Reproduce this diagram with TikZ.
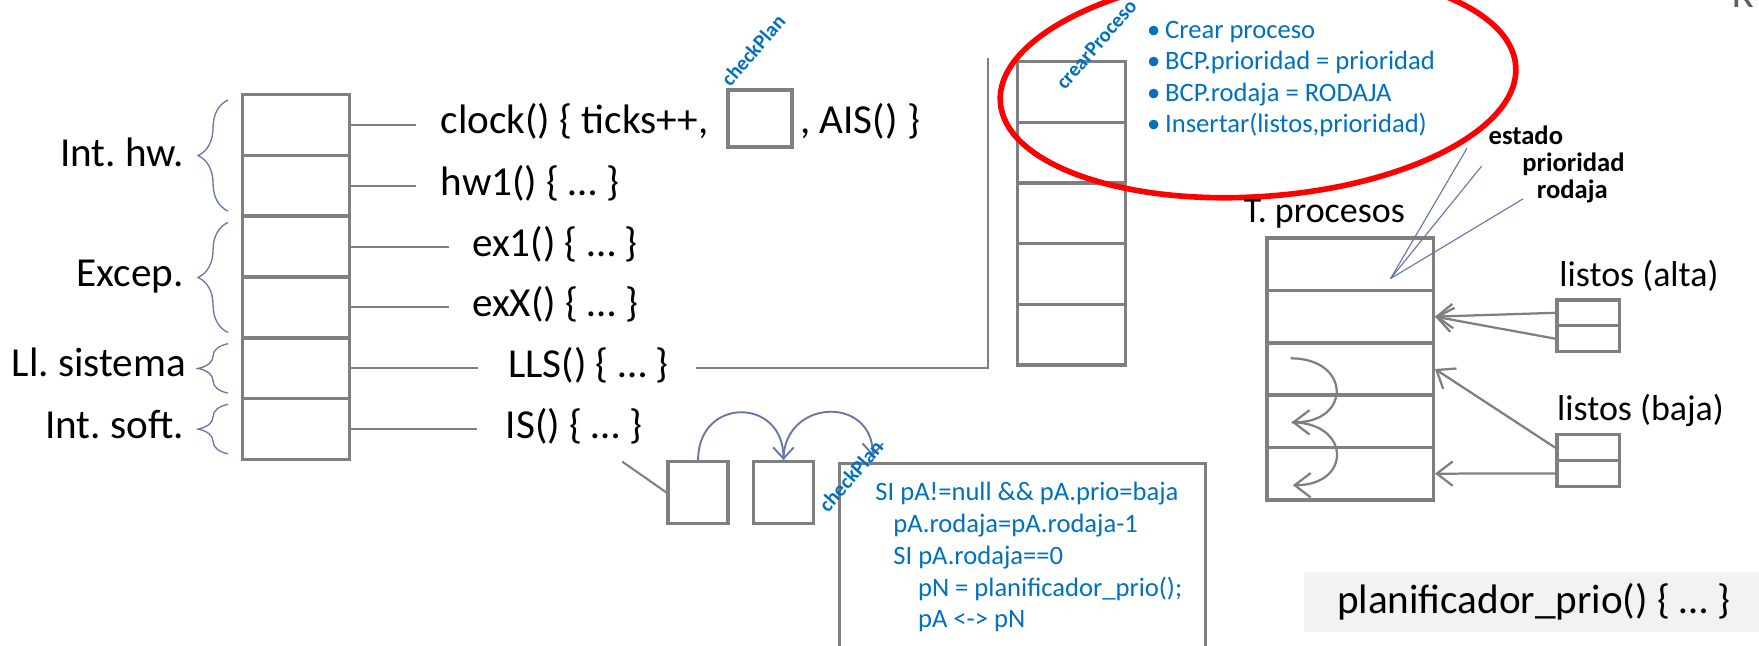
\documentclass[tikz,border=0pt]{standalone}
\usepackage{fontspec}
\setmainfont{Carlito}
\usepackage{tikz}
\usetikzlibrary{arrows.meta}
\usetikzlibrary{calc}
\usetikzlibrary{decorations.pathreplacing}
\definecolor{tabgray}{RGB}{127,127,127}
\definecolor{codeblue}{RGB}{0,112,192}
\definecolor{slate}{RGB}{104,117,168}
\definecolor{plangray}{RGB}{242,242,242}
\definecolor{kgray}{RGB}{95,95,95}
\newcommand{\bigfont}{\fontsize{22}{26}\selectfont}
\newcommand{\midfont}{\fontsize{19.2}{23}\selectfont}
\newcommand{\smallfont}{\fontsize{14.2}{17}\selectfont}
\newcommand{\tagfont}{\fontsize{11}{13}\selectfont\bfseries}
\frenchspacing

\begin{document}
\begin{tikzpicture}[
    x=0.6pt, y=-0.6pt,
    vec cell/.style={draw=tabgray, line width=1.8pt, minimum width=57pt, minimum height=32.5pt, inner sep=0pt},
    proc cell/.style={vec cell, minimum width=57.6pt, minimum height=32.4pt},
    tab cell/.style={vec cell, minimum width=88.8pt, minimum height=28pt},
    list cell/.style={vec cell, minimum width=33.6pt, minimum height=13.8pt},
    code line/.style={draw=tabgray, line width=1.1pt},
    gray arrow/.style={draw=tabgray, line width=1.2pt, -{Straight Barb[length=8.5pt,width=13pt]}},
    blue arrow/.style={draw=slate, line width=1pt, -{Straight Barb[length=6pt,width=11pt]}},
    blue thin/.style={draw=slate, line width=0.6pt},
    brace line/.style={draw=slate, line width=0.7pt, decorate, decoration={brace, amplitude=16pt}},
    big text/.style={inner sep=0pt, font=\bigfont},
    mid text/.style={inner sep=0pt, font=\midfont},
    blue text/.style={inner sep=0pt, font=\smallfont, text=codeblue},
    tag text/.style={inner sep=0pt, font=\tagfont, text=codeblue, rotate=49, anchor=base west},
    field text/.style={inner sep=0pt, font=\smallfont\bfseries}
    ]

    \useasboundingbox (0,0) rectangle (1566,575);
    \clip (0,0) rectangle (1566,575);

    % vector table
    \foreach \i in {1,...,6}
        \node[vec cell] (v\i) at (263.5, {56.9+54.2*\i}) {};
    % braces and groups
    \draw[brace line] (203,188) -- (203,89);
    \draw[brace line] (203,296) -- (203,198);
    \draw[brace line] (203,350) -- (203,306);
    \draw[brace line] (203,404) -- (203,360);
    \node[big text, anchor=base east] (hw) at (164,148.6) {Int. hw.};
    \node[big text, anchor=base east] (exc) at (164,255.4) {Excep.};
    \node[big text, anchor=base east] (sis) at (166,335.5) {Ll. sistema};
    \node[big text, anchor=base east] (soft) at (164,390) {Int. soft.};

    % handlers
    \node[big text, anchor=base west] (clk) at (392,119) {clock() \{ ticks++,};
    \node[vec cell, minimum width=34.2pt, minimum height=30.6pt] (chk) at (676.5,105.5) {};
    \node[big text, anchor=base west] (ais) at (712,119) {, AIS() \}};
    \node[big text, anchor=base west] (hwa) at (392,174) {hw1() \{ … \}};
    \node[big text, anchor=base west] (exa) at (420,228) {ex1() \{ … \}};
    \node[big text, anchor=base west] (exb) at (420,282) {exX() \{ … \}};
    \node[big text, anchor=base west] (lls) at (452,336) {LLS() \{ … \}};
    \node[big text, anchor=base west] (is) at (450,390) {IS() \{ … \}};
    \node[tag text] (chkTag) at (650,78) {checkPlan};
    \foreach \i/\t/\g in {1/clk/13pt, 2/hwa/13pt, 3/exa/12pt, 4/exb/12pt, 5/lls/16pt, 6/is/15pt}
        \draw[code line, shorten >=\g] (v\i.east) -- (v\i.east -| \t.west);

    % crearProceso
    \foreach \i in {1,...,5}
        \node[proc cell] (p\i) at (954, {28+54*\i}) {};
    \node[tag text] (cp) at (948,81) {crearProceso};
    \coordinate (top) at (880,52);
    \draw[code line] (lls.east |- v5.east) ++(24,0) -- (top |- v5.east) -- (top);
    \draw[red, line width=3pt, rotate around={4:(1120,75)}] (1120,75) ellipse [x radius=230, y radius=100];
    \foreach \y/\txt [count=\k] in {34/Crear proceso, 62/BCP.prioridad = prioridad, 90/BCP.rodaja = RODAJA, 118/{Insertar(listos,prioridad)}}
        \node[blue text, anchor=base west] (item\k) at (1021,\y) {\makebox[9.6pt][l]{\textbullet}\txt};

    % tabla de procesos
    \node[mid text, anchor=base west] (tpl) at (1107,198) {T. procesos};
    \foreach \i in {1,...,5}
        \node[tab cell] (t\i) at (1202, {188.7+46.6*\i}) {};
    \node[field text, anchor=base west] (est) at (1325,129) {estado};
    \node[field text, anchor=base west] (pri) at (1355,153) {prioridad};
    \node[field text, anchor=base west] (rod) at (1368,177) {rodaja};
    \coordinate (bcp) at (1238,248);
    \coordinate (toEst) at (1306,132);
    \coordinate (toPri) at (1319,148);
    \coordinate (toRod) at (1356,177);
    \draw[blue thin] (bcp) -- (toEst);
    \draw[blue thin] (bcp) -- (toPri);
    \draw[blue thin] (bcp) -- (toRod);
    \coordinate (s1) at (1149,319);
    \coordinate (s2) at (1150,376);
    \coordinate (s3) at (1151,432);
    \draw[gray arrow] (s1) to[out=0, in=0, looseness=2.4] (s2);
    \draw[gray arrow] (s2) to[out=0, in=0, looseness=2.4] (s3);

    % listos
    \node[mid text, anchor=base west] (alta) at (1388,255) {listos (alta)};
    \node[list cell] (a1) at (1414,278.5) {};
    \node[list cell] (a2) at (1414,301.5) {};
    \node[mid text, anchor=base west] (baja) at (1386,374) {listos (baja)};
    \node[list cell] (q1) at (1414,398.5) {};
    \node[list cell] (q2) at (1414,421.5) {};
    \draw[gray arrow] (a1.west) -- (t2.east);
    \draw[gray arrow] (a2.west) -- (t2.east);
    \draw[gray arrow] (q1.west) -- (t3.east);
    \draw[gray arrow] (q2.west) -- (t5.east);

    % checkPlan
    \node[vec cell, minimum width=32pt, minimum height=33pt] (qa) at (621.5,438.5) {};
    \node[vec cell, minimum width=32pt, minimum height=33pt] (qb) at (697.5,438.5) {};
    \coordinate (isEnd) at (554,411);
    \draw[code line] (isEnd) -- (qa.west);
    \node[vec cell, minimum width=195.6pt, minimum height=113.4pt, anchor=north west] (code) at (746,411) {};
    \coordinate (cpIn) at (777,406);
    \draw[blue arrow] (qa.north) to[out=90, in=90, looseness=1.9] (qb.north);
    \draw[blue arrow] (qb.north) to[out=90, in=90, looseness=1.75] (cpIn);
    \node[tag text] (chkTag2) at (737,457) {checkPlan};
    \foreach \y/\x/\txt [count=\k] in {446/779/{SI pA!=null \&\& pA.prio=baja}, 474/795/{pA.rodaja=pA.rodaja-1}, 503/795/{SI pA.rodaja==0}, 531/817/{pN = planificador\_prio();}, 559/817/{pA <-> pN}}
        \node[blue text, anchor=base west] (c\k) at (\x,\y) {\txt};

    % planificador
    \node[big text, fill=plangray, anchor=west, inner xsep=17.4pt, minimum height=32.4pt] (plan) at (1161,536) {planificador\_prio() \{ … \}};
    \node[big text, text=kgray, anchor=base west] (kay) at (1542,7) {K};
\end{tikzpicture}
\end{document}
